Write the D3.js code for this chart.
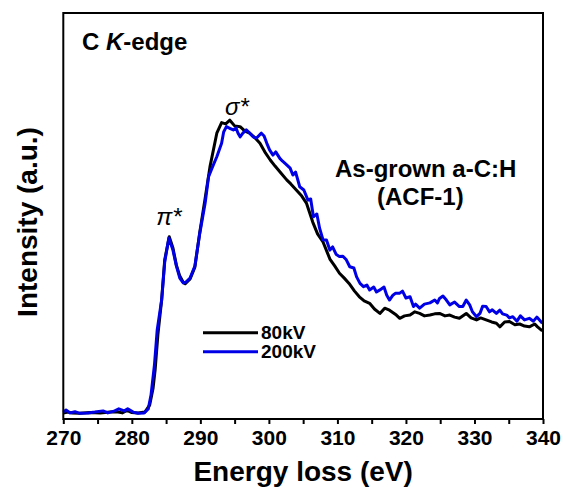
<!DOCTYPE html>
<html>
<head>
<meta charset="utf-8">
<script src="https://cdn.jsdelivr.net/npm/d3@7"></script>
<style>
  html, body { margin: 0; padding: 0; background: #fff; }
  svg { display: block; }
  text { font-family: "Liberation Sans", Arial, sans-serif; }
</style>
</head>
<body>
<svg id="chart" width="563" height="489"></svg>
<script>
// ---- Data ----
const energy80 = [270.0,270.7,271.3,272.4,273.9,275.4,276.8,277.8,278.6,279.3,280.0,280.9,281.9,282.6,283.1,283.4,283.8,284.35,284.8,285.46,286.0,286.5,287.0,287.5,287.8,288.5,289.2,289.9,290.7,291.4,292.4,293.1,293.7,294.3,295.0,295.8,296.5,297.2,298.0,298.7,299.4,300.2,300.9,301.6,302.6,303.2,304.0,304.8,305.5,306.4,307.1,307.9,308.5,308.9,309.6,310.3,311.0,311.7,312.5,313.2,313.9,314.7,315.4,316.2,316.9,317.6,318.6,319.1,319.8,320.6,321.3,322.0,322.7,323.5,324.2,324.9,325.7,326.4,327.1,327.8,328.8,329.5,330.3,330.9,331.7,332.5,333.2,333.7,334.4,335.1,335.9,336.6,337.3,338.0,338.8,339.2,339.9];
const intensity80 = [0.015,0.017,0.015,0.014,0.016,0.015,0.017,0.018,0.015,0.021,0.016,0.015,0.017,0.034,0.076,0.121,0.207,0.293,0.392,0.449,0.421,0.379,0.352,0.337,0.333,0.345,0.374,0.458,0.544,0.621,0.704,0.730,0.727,0.736,0.722,0.720,0.709,0.704,0.692,0.679,0.658,0.638,0.623,0.609,0.589,0.579,0.564,0.549,0.531,0.485,0.456,0.436,0.411,0.394,0.377,0.359,0.347,0.334,0.315,0.301,0.291,0.285,0.271,0.260,0.273,0.268,0.256,0.248,0.254,0.256,0.264,0.260,0.254,0.256,0.259,0.260,0.254,0.256,0.251,0.248,0.260,0.249,0.244,0.249,0.244,0.239,0.236,0.227,0.239,0.240,0.232,0.234,0.229,0.227,0.234,0.227,0.217];

const energy200 = [270.0,270.4,271.0,271.7,272.4,273.6,274.6,275.8,276.5,277.5,278.1,278.9,279.4,280.2,280.9,281.8,282.4,282.8,283.3,283.7,284.35,284.8,285.4,286.0,286.5,287.0,287.5,287.9,288.5,289.2,289.9,290.7,291.2,291.7,292.4,293.1,293.4,293.8,294.3,294.8,295.2,295.5,295.8,296.2,296.7,297.2,297.7,298.2,298.9,299.3,299.7,300.1,300.6,301.0,301.6,302.0,302.6,303.1,303.5,303.9,304.5,305.1,305.7,306.1,306.5,307.0,307.4,307.9,308.4,308.9,309.3,309.8,310.3,310.8,311.3,311.8,312.4,312.8,313.3,313.8,314.3,314.7,315.3,315.7,316.2,316.8,317.2,317.6,318.1,318.5,319.1,319.5,320.0,320.6,321.1,321.4,322.0,322.7,323.5,324.2,324.6,324.9,325.4,325.9,326.4,327.1,327.8,328.3,328.8,329.3,329.7,330.3,330.8,331.2,331.7,332.2,332.6,333.2,333.7,334.1,334.7,335.1,335.6,336.2,336.7,337.3,338.0,338.6,339.1,339.9];
const intensity200 = [0.017,0.022,0.015,0.018,0.014,0.015,0.017,0.020,0.015,0.020,0.025,0.020,0.025,0.017,0.014,0.015,0.025,0.059,0.133,0.219,0.293,0.387,0.446,0.416,0.377,0.347,0.335,0.337,0.347,0.377,0.456,0.532,0.597,0.618,0.646,0.679,0.707,0.720,0.716,0.712,0.717,0.704,0.695,0.704,0.712,0.704,0.695,0.692,0.704,0.697,0.679,0.663,0.650,0.658,0.642,0.635,0.626,0.618,0.601,0.608,0.572,0.564,0.539,0.542,0.498,0.505,0.470,0.441,0.441,0.416,0.424,0.406,0.400,0.401,0.392,0.375,0.372,0.350,0.334,0.326,0.330,0.318,0.325,0.313,0.318,0.325,0.305,0.293,0.305,0.310,0.310,0.315,0.298,0.301,0.277,0.283,0.273,0.283,0.286,0.293,0.286,0.297,0.303,0.293,0.281,0.288,0.277,0.277,0.293,0.281,0.264,0.252,0.260,0.278,0.277,0.264,0.269,0.260,0.268,0.259,0.256,0.249,0.252,0.241,0.254,0.244,0.248,0.241,0.251,0.236];

const xTicks = [270, 280, 290, 300, 310, 320, 330, 340];
const xMinorTicks = [275, 285, 295, 305, 315, 325, 335];
const seriesNames = ["80kV", "200kV"];
const seriesColors = ["#000000", "#0000e6"];

// ---- Layout ----
const svg = d3.select("#chart");
const plotL = 63.3, plotR = 543, plotT = 13, plotB = 419;

const x = d3.scaleLinear().domain([270, 340]).range([plotL, plotR]);
const y = d3.scaleLinear().domain([0, 1]).range([plotB, plotT]);

// Curves
const line = d3.line().x(d => x(d[0])).y(d => y(d[1]));
const series = [
  d3.zip(energy80, intensity80),
  d3.zip(energy200, intensity200)
];
series.forEach((s, i) => {
  svg.append("path")
    .datum(s)
    .attr("d", line)
    .attr("fill", "none")
    .attr("stroke", seriesColors[i])
    .attr("stroke-width", 3)
    .attr("stroke-linejoin", "round");
});

// Frame
svg.append("rect")
  .attr("x", plotL).attr("y", plotT)
  .attr("width", plotR - plotL).attr("height", plotB - plotT)
  .attr("fill", "none").attr("stroke", "#000").attr("stroke-width", 2);

// X axis (ticks outward)
const xAxis = d3.axisBottom(x).tickValues(xTicks).tickSize(5).tickPadding(6).tickFormat(d3.format("d"));
const gx = svg.append("g").attr("transform", `translate(0,${plotB})`).call(xAxis);
gx.select(".domain").remove();
gx.selectAll(".tick line").attr("stroke", "#000").attr("stroke-width", 2);
gx.selectAll(".tick text")
  .attr("font-family", "'Liberation Sans', Arial, sans-serif")
  .attr("font-size", 21).attr("font-weight", "bold").attr("fill", "#000");

const xMinor = d3.axisBottom(x).tickValues(xMinorTicks).tickSize(5).tickFormat("");
const gxm = svg.append("g").attr("transform", `translate(0,${plotB})`).call(xMinor);
gxm.select(".domain").remove();
gxm.selectAll(".tick line").attr("stroke", "#000").attr("stroke-width", 2);

// Axis titles
svg.append("text")
  .attr("x", (plotL + plotR) / 2).attr("y", 481)
  .attr("text-anchor", "middle")
  .attr("font-size", 28).attr("font-weight", "bold")
  .text("Energy loss (eV)");

svg.append("text")
  .attr("transform", `translate(37,${(plotT + plotB) / 2 + 6}) rotate(-90)`)
  .attr("text-anchor", "middle")
  .attr("font-size", 28).attr("font-weight", "bold")
  .text("Intensity (a.u.)");

// Annotations
const ck = svg.append("text").attr("x", 82).attr("y", 50)
  .attr("font-size", 24).attr("font-weight", "bold");
ck.append("tspan").text("C ");
ck.append("tspan").attr("font-style", "italic").text("K");
ck.append("tspan").text("-edge");

svg.append("text").attr("x", 237).attr("y", 115)
  .attr("text-anchor", "middle")
  .attr("font-family", "'Liberation Serif', 'Times New Roman', serif")
  .attr("font-style", "italic").attr("font-size", 24)
  .text("σ*");

svg.append("text").attr("x", 169).attr("y", 225)
  .attr("text-anchor", "middle")
  .attr("font-family", "'Liberation Serif', 'Times New Roman', serif")
  .attr("font-style", "italic").attr("font-size", 24)
  .text("π*");

svg.append("text").attr("x", 335).attr("y", 177)
  .attr("font-size", 24).attr("font-weight", "bold")
  .text("As-grown a-C:H");
svg.append("text").attr("x", 377).attr("y", 205)
  .attr("font-size", 24).attr("font-weight", "bold")
  .text("(ACF-1)");

// Legend
const legendY = [332.7, 351.7];
seriesNames.forEach((name, i) => {
  svg.append("line")
    .attr("x1", 203).attr("x2", 258)
    .attr("y1", legendY[i]).attr("y2", legendY[i])
    .attr("stroke", seriesColors[i]).attr("stroke-width", 3);
  svg.append("text")
    .attr("x", 261).attr("y", legendY[i] + 6.5)
    .attr("font-size", 19).attr("font-weight", "bold")
    .text(name);
});
</script>
</body>
</html>
